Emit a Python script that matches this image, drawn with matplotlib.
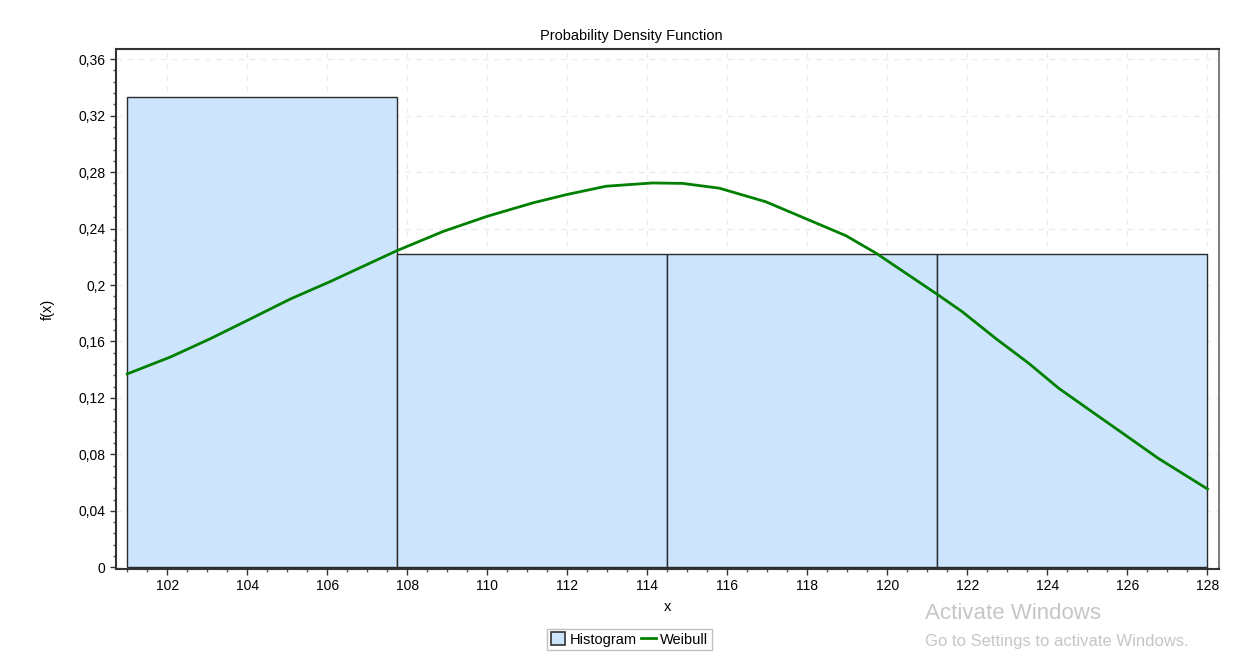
# coding=utf-8
# Probability density function: histogram + fitted Weibull curve

import matplotlib.pyplot as plt
from matplotlib.ticker import MultipleLocator, AutoMinorLocator, FuncFormatter
from matplotlib.patches import Patch
from matplotlib.lines import Line2D

# Histogram bins (edges) and densities
bin_edges = [101.0, 107.75, 114.5, 121.25, 128.0]
densities = [0.3333, 0.2222, 0.2222, 0.2222]

# Weibull pdf
weibull_x = [101.0, 102.08, 103.08, 104.08, 105.07, 106.07, 107.73,
             108.9, 110.0, 111.14, 111.97, 112.97, 114.13, 114.88, 115.8,
             116.96, 117.96, 118.96, 119.72, 121.23, 121.87, 122.70, 123.53,
             124.28, 125.11, 125.94, 126.77, 128.0]
weibull_y = [0.137, 0.149, 0.162, 0.176, 0.190, 0.2024, 0.2242,
             0.238, 0.2487, 0.2582, 0.264, 0.270, 0.2723, 0.272, 0.2686,
             0.259, 0.247, 0.235, 0.2225, 0.1937, 0.1811, 0.1623, 0.1446,
             0.1269, 0.1103, 0.0938, 0.0772, 0.0555]

plt.rcParams['font.family'] = ['Liberation Sans', 'DejaVu Sans']
plt.rcParams['font.size'] = 10

fig = plt.figure(figsize=(12.53, 6.61), dpi=100)
ax = fig.add_axes([0.0926, 0.1392, 0.88, 0.7862])

# Гистограмма
widths = [bin_edges[i + 1] - bin_edges[i] for i in range(len(densities))]
ax.bar(bin_edges[:-1], densities, width=widths, align='edge',
       color='#cce5fc', edgecolor='#2b2b2b', linewidth=1, zorder=2)

# Кривая Вейбулла
ax.plot(weibull_x, weibull_y, color='#008000', linewidth=2, zorder=3)

ax.set_xlim(100.72, 128.28)
ax.set_ylim(-0.0012, 0.367)

ax.xaxis.set_major_locator(MultipleLocator(2))
ax.xaxis.set_minor_locator(MultipleLocator(0.5))
ax.yaxis.set_major_locator(MultipleLocator(0.04))
ax.yaxis.set_minor_locator(AutoMinorLocator(5))
ax.yaxis.set_major_formatter(FuncFormatter(lambda v, p: f'{v:.2f}'.rstrip('0').rstrip('.').replace('.', ',') if abs(v) > 1e-9 else '0'))

ax.tick_params(which='major', direction='out', length=4, width=1, colors='#333333',
               labelcolor='black', labelsize=10)
ax.tick_params(which='minor', direction='out', length=2.5, width=1, colors='#555555')

ax.grid(True, which='major', linestyle=(0, (4, 4)), color='#ececec', linewidth=1, zorder=0)
ax.set_axisbelow(True)

for side in ['left', 'bottom', 'top']:
    ax.spines[side].set_color('#333333')
    ax.spines[side].set_linewidth(1.5)
ax.spines['right'].set_color('#7f7f7f')
ax.spines['right'].set_linewidth(1.5)

# Заголовок по центру рисунка
fig.text(0.504, 0.946, 'Probability Density Function', fontsize=10.5, ha='center', va='center')
ax.set_xlabel('x', fontsize=10.5, labelpad=5)
ax.set_ylabel('f(x)', fontsize=10.5, labelpad=17)

handles = [Patch(facecolor='#cce5fc', edgecolor='#333333', linewidth=1.2),
           Line2D([0], [0], color='#008000', linewidth=2)]
fig.legend(handles, ['Histogram', 'Weibull'], loc='center', bbox_to_anchor=(0.5025, 0.0325),
           ncol=2, frameon=True, fancybox=False, edgecolor='#b0b0b0', fontsize=10.5,
           handlelength=1.0, handleheight=1.0, handletextpad=0.3, columnspacing=0.3,
           borderpad=0.25)

# Водяной знак Windows
fig.text(0.738, 0.063, 'Activate Windows', fontsize=16, color='#c6c6c6')
fig.text(0.738, 0.022, 'Go to Settings to activate Windows.', fontsize=12, color='#c6c6c6')

fig.savefig('out.png', dpi=100)
